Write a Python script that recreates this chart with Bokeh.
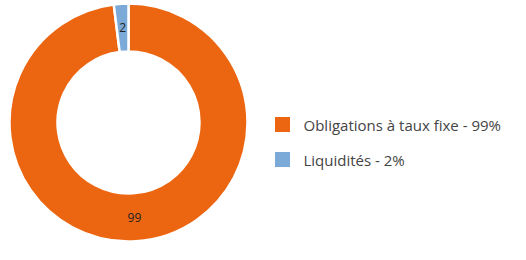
import math
from bokeh.plotting import figure
from bokeh.models import Range1d, ColumnDataSource
from bokeh.core.properties import value
from bokeh.embed import file_html
from bokeh.resources import INLINE

categories = ["Obligations à taux fixe", "Liquidités"]
values = [99, 2]
colors = ["#EC6611", "#7BAAD8"]

W, H = 510, 244
p = figure(width=W, height=H, output_backend="svg", toolbar_location=None,
           x_range=Range1d(0, W), y_range=Range1d(0, H), min_border=0)
p.axis.visible = False
p.grid.visible = False
p.outline_line_color = None
p.background_fill_color = "white"
p.border_fill_color = "white"

cx, cy = 128, 122
r_out, r_in = 119, 71

total = sum(values)
starts, ends, lx, ly, labels = [], [], [], [], []
cum = 0.0
for v in values:
    a0 = math.pi / 2 - (cum + v) / total * 2 * math.pi
    a1 = math.pi / 2 - cum / total * 2 * math.pi
    starts.append(a0)
    ends.append(a1)
    mid = (a0 + a1) / 2
    rm = (r_in + r_out) / 2
    lx.append(cx + rm * math.cos(mid))
    ly.append(cy + rm * math.sin(mid))
    labels.append(str(v))
    cum += v

src = ColumnDataSource(dict(start=starts, end=ends, color=colors, lx=lx, ly=ly, label=labels))
p.annular_wedge(x=cx, y=cy, inner_radius=r_in, outer_radius=r_out,
                start_angle="start", end_angle="end", fill_color="color",
                line_color="white", line_width=2.5, source=src)
p.text(x="lx", y="ly", text="label", source=src, text_align="center",
       text_baseline="middle", text_font=value("Open Sans"),
       text_font_size="12px", text_color="#222222")

leg_x = 282
leg_y = [H - 124, H - 159]
leg_text = [f"{c} - {v}%" for c, v in zip(categories, [99, 2])]
lsrc = ColumnDataSource(dict(x=[leg_x] * 2, y=leg_y, color=colors, t=leg_text,
                             tx=[leg_x + 21] * 2))
p.rect(x="x", y="y", width=15, height=15, fill_color="color", line_color=None, source=lsrc)
p.text(x="tx", y="y", text="t", source=lsrc, text_align="left", text_baseline="middle",
       text_font=value("Open Sans"), text_font_size="15px", text_color="#444444")

open("out.html", "w").write(file_html(p, INLINE))
